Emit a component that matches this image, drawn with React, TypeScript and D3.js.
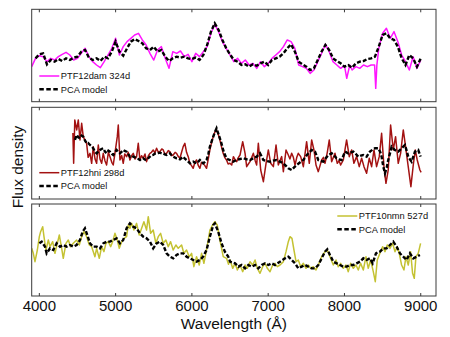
import React from 'react';
import * as d3 from 'd3';

// wavelength (Å), flux (arbitrary units)
const dam324 = [
  [3900,105],[3950,130],[4000,138],[4050,135],[4100,120],[4150,130],[4200,125],[4250,135],[4300,142],[4350,148],
  [4400,140],[4450,125],[4500,130],[4550,145],[4600,160],[4650,135],[4700,120],[4750,110],[4800,102],[4850,120],
  [4900,140],[4950,160],[5000,190],[5050,140],[5100,165],[5150,180],[5200,190],[5250,200],[5300,205],[5350,185],
  [5400,170],[5450,145],[5500,125],[5550,155],[5600,165],[5650,130],[5700,100],[5750,150],[5800,145],[5850,152],
  [5900,135],[5950,142],[6000,120],[6050,145],[6100,135],[6150,150],[6200,165],[6250,205],[6300,232],[6350,210],
  [6400,180],[6450,160],[6500,140],[6550,120],[6600,130],[6650,115],[6700,125],[6750,110],[6800,115],[6850,100],
  [6900,120],[6950,105],[7000,115],[7050,130],[7100,140],[7150,150],[7200,165],[7250,185],[7300,180],[7350,160],
  [7400,110],[7450,105],[7500,100],[7550,85],[7600,95],[7650,120],[7700,145],[7750,172],[7800,150],[7850,120],
  [7900,110],[7950,100],[8000,108],[8030,70],[8070,110],[8100,95],[8150,105],[8200,100],[8250,110],[8300,105],
  [8350,110],[8395,110],[8410,40],[8425,110],[8450,160],[8500,205],[8550,220],[8600,190],[8650,210],[8700,180],
  [8750,140],[8800,120],[8850,95],[8900,135],[8950,100],[9000,125],
];

const dam324Model = [
  [3950,130],[4000,142],[4050,145],[4100,112],[4150,125],[4200,120],[4250,128],[4300,122],[4350,130],[4400,125],
  [4450,132],[4500,135],[4550,150],[4600,155],[4650,132],[4700,125],[4750,130],[4800,122],[4850,135],[4900,130],
  [4950,150],[5000,180],[5050,150],[5100,138],[5150,160],[5200,180],[5250,188],[5300,182],[5350,175],[5400,160],
  [5450,155],[5500,165],[5550,150],[5600,155],[5650,135],[5700,122],[5750,130],[5800,135],[5850,132],[5900,135],
  [5950,130],[6000,128],[6050,132],[6100,125],[6150,140],[6200,170],[6250,210],[6300,235],[6350,215],[6400,185],
  [6450,160],[6500,142],[6550,125],[6600,120],[6650,110],[6700,112],[6750,105],[6800,112],[6850,108],[6900,115],
  [6950,120],[7000,110],[7050,125],[7100,130],[7150,135],[7200,145],[7250,160],[7300,172],[7350,150],[7400,120],
  [7450,112],[7500,105],[7550,95],[7600,100],[7650,125],[7700,150],[7750,170],[7800,155],[7850,130],[7900,122],
  [7950,115],[8000,105],[8050,110],[8100,102],[8150,115],[8200,120],[8250,122],[8300,128],[8350,130],[8400,135],
  [8450,165],[8500,200],[8550,205],[8600,190],[8650,185],[8700,165],[8750,130],[8800,110],[8850,140],[8900,130],
  [8950,105],[9000,130],
];

const hni298 = [
  [4440,198],[4450,107],[4465,237],[4490,207],[4511,237],[4533,177],[4555,227],[4576,187],[4600,175],[4620,167],
  [4640,125],[4664,137],[4686,107],[4707,157],[4730,120],[4751,107],[4773,162],[4795,120],[4817,107],[4838,137],
  [4860,115],[4882,102],[4905,140],[4926,127],[4950,110],[4969,102],[4991,137],[5022,187],[5035,222],[5057,117],
  [5080,130],[5100,107],[5120,135],[5144,127],[5165,140],[5188,117],[5210,130],[5231,137],[5255,120],[5275,127],
  [5297,167],[5319,117],[5340,130],[5362,122],[5385,135],[5406,112],[5430,130],[5450,137],[5470,140],[5493,147],
  [5515,138],[5537,152],[5560,140],[5581,142],[5605,150],[5624,147],[5645,135],[5668,137],[5690,145],[5712,142],
  [5735,130],[5755,132],[5780,140],[5799,137],[5820,128],[5843,122],[5865,140],[5886,157],[5908,167],[5930,140],
  [5952,127],[5974,107],[5995,100],[6017,92],[6040,110],[6061,117],[6085,100],[6105,92],[6125,110],[6148,107],
  [6170,100],[6192,92],[6215,120],[6236,147],[6258,170],[6280,187],[6300,200],[6323,207],[6345,195],[6367,177],
  [6390,155],[6410,137],[6430,125],[6454,117],[6475,105],[6498,107],[6522,102],[6544,127],[6566,118],[6587,112],
  [6610,125],[6631,132],[6666,172],[6697,137],[6718,97],[6740,105],[6762,112],[6785,125],[6806,137],[6830,115],
  [6849,102],[6871,167],[6902,87],[6937,52],[6972,107],[7002,147],[7033,107],[7068,97],[7103,162],[7133,102],
  [7155,115],[7177,127],[7199,82],[7234,147],[7264,132],[7285,120],[7308,137],[7330,125],[7352,102],[7375,125],
  [7395,137],[7426,127],[7461,97],[7504,172],[7539,107],[7570,177],[7600,147],[7627,102],[7657,82],[7680,100],
  [7701,117],[7725,125],[7745,107],[7775,140],[7801,177],[7832,112],[7855,125],[7876,137],[7906,107],[7930,115],
  [7950,102],[7985,117],[8028,177],[8063,127],[8094,147],[8124,107],[8159,127],[8194,97],[8225,122],[8256,97],
  [8290,77],[8325,122],[8356,97],[8387,147],[8421,97],[8456,127],[8487,197],[8518,97],[8544,47],[8574,87],
  [8605,222],[8640,147],[8670,187],[8705,107],[8736,137],[8771,207],[8801,157],[8836,97],[8871,37],[8902,102],
  [8928,147],[8954,117],[8989,87],[9005,80],
];

const hni298Model = [
  [4467,177],[4489,192],[4511,185],[4533,182],[4555,190],[4576,187],[4600,175],[4620,167],[4640,168],[4664,162],
  [4685,158],[4707,152],[4730,142],[4751,137],[4775,143],[4795,147],[4815,150],[4838,152],[4860,142],[4882,137],
  [4905,145],[4926,142],[4950,135],[4969,132],[4990,140],[5013,147],[5035,140],[5057,137],[5080,142],[5100,147],
  [5120,144],[5144,142],[5165,135],[5188,127],[5210,130],[5231,127],[5255,125],[5275,122],[5297,120],[5319,117],
  [5340,121],[5362,122],[5385,118],[5406,117],[5430,123],[5450,127],[5470,131],[5493,132],[5515,136],[5537,137],
  [5560,138],[5581,139],[5605,137],[5624,137],[5645,134],[5668,132],[5690,135],[5712,137],[5735,131],[5755,127],
  [5780,124],[5799,122],[5820,121],[5843,119],[5865,123],[5886,127],[5908,121],[5930,117],[5952,112],[5974,107],
  [5995,110],[6017,112],[6040,109],[6061,107],[6085,112],[6105,117],[6125,112],[6148,107],[6170,111],[6192,117],
  [6215,135],[6236,157],[6258,172],[6280,187],[6300,200],[6323,212],[6345,197],[6367,182],[6390,165],[6410,147],
  [6430,134],[6454,122],[6475,119],[6498,117],[6520,114],[6541,112],[6587,117],[6630,120],[6675,122],[6720,119],
  [6762,117],[6805,122],[6849,127],[6893,137],[6937,117],[6980,114],[7024,112],[7065,115],[7111,117],[7155,112],
  [7199,107],[7230,100],[7264,92],[7308,87],[7340,95],[7373,102],[7420,110],[7461,117],[7495,128],[7526,137],
  [7570,147],[7614,142],[7635,130],[7657,117],[7690,114],[7723,112],[7755,122],[7788,132],[7832,137],[7865,130],
  [7897,122],[7930,119],[7963,117],[8007,142],[8050,137],[8085,140],[8116,142],[8150,135],[8181,127],[8215,130],
  [8247,132],[8290,127],[8334,142],[8370,148],[8400,152],[8443,152],[8470,140],[8487,127],[8509,97],[8531,77],
  [8555,95],[8574,117],[8600,140],[8618,157],[8640,152],[8662,147],[8705,142],[8749,152],[8793,162],[8815,145],
  [8836,127],[8860,118],[8880,112],[8924,142],[8967,147],[8998,127],
];

const nmn527 = [
  [3900,143],[3921,128],[3943,103],[3974,138],[4000,178],[4017,193],[4044,208],[4061,178],[4087,138],[4118,168],
  [4140,148],[4175,163],[4205,128],[4236,158],[4262,183],[4293,143],[4314,113],[4349,158],[4380,168],[4410,148],
  [4445,158],[4489,168],[4524,153],[4555,178],[4585,193],[4620,178],[4655,153],[4686,148],[4729,118],[4751,143],
  [4786,113],[4817,148],[4847,133],[4873,158],[4904,163],[4935,148],[4961,163],[4991,188],[5022,168],[5048,143],
  [5079,163],[5109,173],[5144,178],[5166,213],[5188,203],[5210,218],[5240,198],[5275,218],[5310,183],[5341,203],
  [5371,223],[5406,198],[5428,238],[5459,188],[5493,198],[5528,158],[5559,178],[5590,188],[5624,158],[5659,168],
  [5690,148],[5721,163],[5755,138],[5790,153],[5821,143],[5865,153],[5895,128],[5930,138],[5965,118],[5996,128],
  [6026,88],[6061,118],[6096,93],[6127,128],[6157,98],[6192,138],[6236,198],[6271,213],[6301,223],[6332,213],
  [6367,168],[6411,118],[6454,113],[6480,95],[6500,108],[6535,83],[6566,98],[6596,78],[6631,93],[6666,73],
  [6697,93],[6727,83],[6762,103],[6797,93],[6828,108],[6858,83],[6893,68],[6928,88],[6959,98],[6989,83],
  [7024,73],[7059,93],[7090,98],[7120,88],[7155,93],[7199,103],[7234,133],[7264,163],[7286,178],[7312,173],
  [7338,138],[7365,103],[7395,108],[7426,88],[7461,98],[7496,83],[7526,93],[7557,83],[7592,88],[7627,78],
  [7657,93],[7701,118],[7745,133],[7775,138],[7810,118],[7854,93],[7889,108],[7919,88],[7950,98],[7985,83],
  [8020,93],[8050,73],[8081,98],[8116,83],[8151,93],[8181,78],[8212,98],[8247,78],[8282,118],[8312,83],
  [8343,108],[8378,73],[8404,43],[8430,108],[8465,128],[8500,148],[8531,133],[8561,153],[8596,143],[8631,158],
  [8662,133],[8692,148],[8718,128],[8749,93],[8780,78],[8806,118],[8836,93],[8867,133],[8893,68],[8915,53],
  [8937,118],[8967,128],[8998,158],
];

const nmn527Model = [
  [4000,158],[4031,163],[4074,148],[4096,128],[4140,143],[4183,138],[4227,158],[4271,148],[4314,153],[4358,148],
  [4402,153],[4445,148],[4489,153],[4533,168],[4568,193],[4598,203],[4629,183],[4664,158],[4707,148],[4751,148],
  [4795,143],[4838,158],[4882,163],[4926,163],[4969,168],[5013,173],[5057,158],[5100,168],[5144,203],[5188,218],
  [5231,208],[5275,203],[5319,188],[5362,178],[5406,173],[5450,163],[5493,143],[5537,158],[5581,163],[5624,153],
  [5668,128],[5712,118],[5755,113],[5799,123],[5843,128],[5886,128],[5930,118],[5974,113],[6017,108],[6061,103],
  [6105,108],[6148,118],[6192,138],[6236,178],[6280,213],[6301,218],[6345,193],[6389,158],[6432,133],[6476,118],
  [6500,103],[6566,98],[6609,88],[6653,93],[6697,83],[6740,93],[6784,88],[6828,93],[6871,83],[6915,93],
  [6959,98],[7002,93],[7046,98],[7090,93],[7155,103],[7221,113],[7264,118],[7308,108],[7352,98],[7395,83],
  [7439,88],[7483,93],[7526,88],[7570,83],[7614,83],[7657,93],[7701,113],[7745,133],[7775,140],[7810,123],
  [7854,103],[7897,98],[7941,93],[7985,88],[8028,88],[8072,93],[8116,93],[8159,98],[8203,103],[8247,113],
  [8290,108],[8334,113],[8369,98],[8413,128],[8465,133],[8509,143],[8553,143],[8596,153],[8640,163],[8684,148],
  [8727,128],[8771,118],[8814,108],[8858,128],[8902,113],[8946,118],[8989,123],
];

const wavelengthTicks = [4000, 5000, 6000, 7000, 8000, 9000];
const spectrumLabels = ['PTF12dam 324d', 'PTF12hni 298d', 'PTF10nmn 527d'];
const modelLabel = 'PCA model';

const W = 450, H = 337;
const FONT = '"Liberation Sans", Arial, Helvetica, sans-serif';

const panels = [
  { obs: dam324, model: dam324Model, label: spectrumLabels[0], color: '#ff14ff', top: 9.3, bottom: 101.7, fmax: 277, legend: { x: 39.3, y: 76 } },
  { obs: hni298, model: hni298Model, label: spectrumLabels[1], color: '#a31212', top: 107.3, bottom: 199, fmax: 275, legend: { x: 39.3, y: 172.7 } },
  { obs: nmn527, model: nmn527Model, label: spectrumLabels[2], color: '#c4c232', top: 204, bottom: 296, fmax: 276, legend: { x: 337.3, y: 216 } },
];

const left = 31.7, right = 436;

export default function App() {
  const x = d3.scaleLinear().domain([3900, 9200]).range([left, right]);

  return (
    <svg width={W} height={H} style={{ position: 'absolute', left: 0, top: 0, background: '#fff' }}
      fontFamily={FONT}>
      <defs>
        {panels.map((p, i) => (
          <clipPath id={`clip${i}`} key={i}>
            <rect x={left} y={p.top} width={right - left} height={p.bottom - p.top} />
          </clipPath>
        ))}
      </defs>
      {panels.map((p, i) => {
        const y = d3.scaleLinear().domain([0, p.fmax]).range([p.bottom, p.top]);
        const line = d3.line<number[]>().x(d => x(d[0])).y(d => y(d[1]));
        const lg = p.legend;
        return (
          <g key={i}>
            <g clipPath={`url(#clip${i})`}>
              <path d={line(p.obs) || ''} fill="none" stroke={p.color} strokeWidth={1.5} strokeLinejoin="round" />
              <path d={line(p.model) || ''} fill="none" stroke="#000" strokeWidth={2.4}
                strokeDasharray="4,2" />
            </g>
            <rect x={left} y={p.top} width={right - left} height={p.bottom - p.top}
              fill="none" stroke="#3a3a3a" strokeWidth={1} />
            {wavelengthTicks.map(t => (
              <g key={t}>
                <line x1={x(t)} x2={x(t)} y1={p.top} y2={p.top + 3} stroke="#3a3a3a" strokeWidth={1} />
                <line x1={x(t)} x2={x(t)} y1={p.bottom} y2={p.bottom - 3} stroke="#3a3a3a" strokeWidth={1} />
              </g>
            ))}
            <line x1={lg.x} x2={lg.x + 20} y1={lg.y} y2={lg.y} stroke={p.color} strokeWidth={1.5} />
            <text x={lg.x + 21.5} y={lg.y + 3.3} fontSize={9.3} fill="#111">{p.label}</text>
            <line x1={lg.x} x2={lg.x + 20} y1={lg.y + 13.3} y2={lg.y + 13.3} stroke="#000" strokeWidth={2.4}
              strokeDasharray="4.5,2.5" />
            <text x={lg.x + 21.5} y={lg.y + 16.6} fontSize={9.3} fill="#111">{modelLabel}</text>
          </g>
        );
      })}
      {wavelengthTicks.map(t => (
        <text key={t} x={x(t)} y={310.5} fontSize={15} textAnchor="middle" fill="#111">{t}</text>
      ))}
      <text x={(left + right) / 2} y={329} fontSize={15.5} textAnchor="middle" fill="#111">Wavelength (Å)</text>
      <text transform="translate(23,167) rotate(-90)" fontSize={15.5} textAnchor="middle" fill="#111">Flux density</text>
    </svg>
  );
}
